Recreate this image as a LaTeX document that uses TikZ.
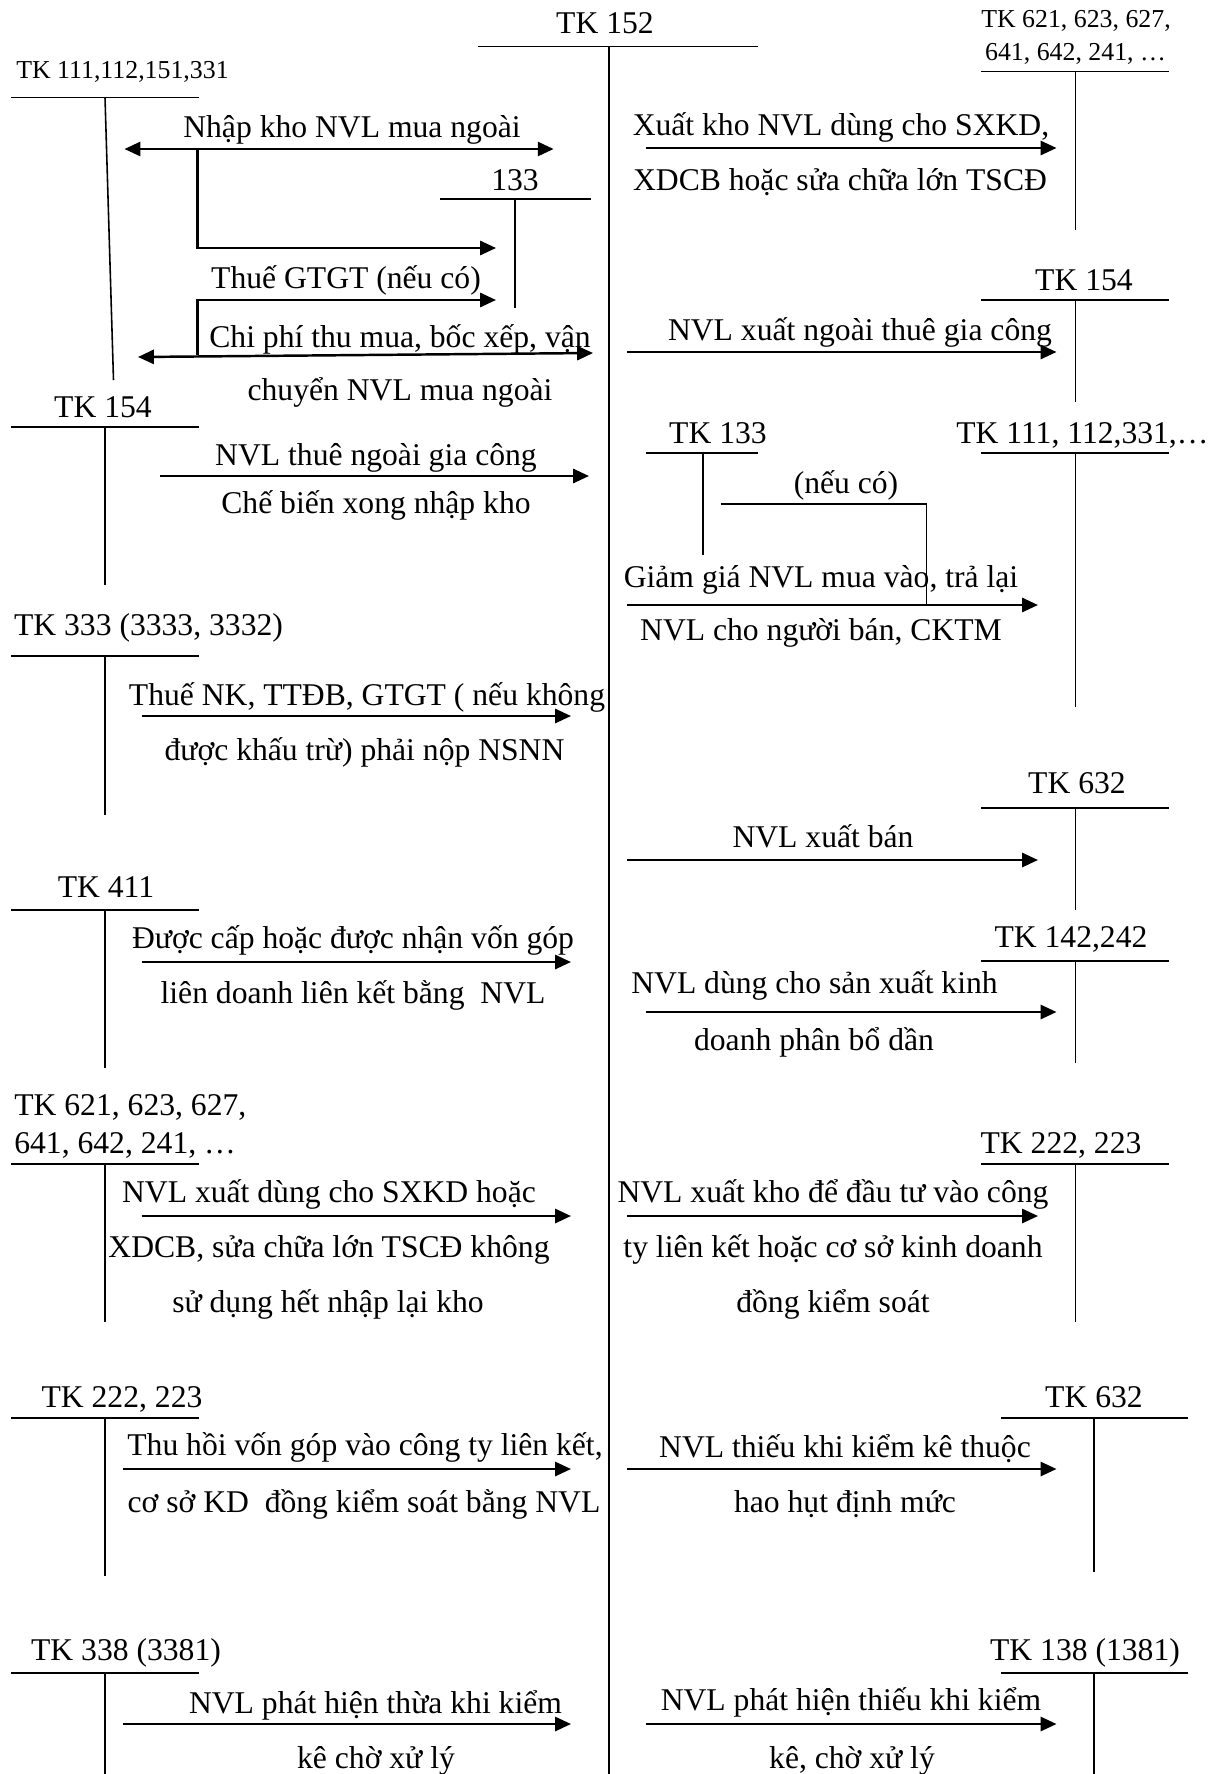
\documentclass[tikz,border=0pt]{standalone}
\usepackage{fontspec}
\setmainfont{Liberation Serif}
\usepackage{tikz}
\usetikzlibrary{arrows.meta}

\tikzset{
  tacct/.style={line width=0.9pt},
  flow/.style={line width=1.4pt,-{Triangle[length=9pt,width=8pt]}},
  flowboth/.style={line width=1.4pt,{Triangle[length=9pt,width=8pt]}-{Triangle[length=9pt,width=8pt]}},
  lbl/.style={anchor=base,inner sep=0pt,font=\fontsize{18}{20}\selectfont},
  lblw/.style={lbl,anchor=base west},
  tksmall/.style={anchor=base,inner sep=0pt,font=\fontsize{14.7}{16}\selectfont},
}

\begin{document}
\begin{tikzpicture}[x=0.2mm,y=-0.2mm,line join=miter]
\useasboundingbox (0,0) rectangle (1220,1774);
% --- centre account TK 152
\draw[tacct] (478,46.7) -- (758,46.7);
\draw[line width=1.2pt] (609,46.7) -- (609,1774);
\node[lbl] (tk152) at (605,33) {TK 152};
% --- left T accounts
\draw[tacct] (11,97.3) -- (198.5,97.3); \draw[tacct] (105,97.3) -- (113.5,380);
\foreach \yt/\yb in {427/585,656/815,910/1068,1164/1322,1418/1576,1673/1774}
  {\draw[tacct] (11,\yt) -- (198.5,\yt); \draw[tacct] (105,\yt) -- (105,\yb);}
% --- right T accounts
\foreach \yt/\yb in {71.7/230,300/402,453/707,808/910,961/1063,1164/1322}
  {\draw[tacct] (981,\yt) -- (1169,\yt); \draw[tacct] (1075.5,\yt) -- (1075.5,\yb);}
\foreach \yt/\yb in {1418/1572,1673/1774}
  {\draw[tacct] (1001,\yt) -- (1188,\yt); \draw[tacct] (1094,\yt) -- (1094,\yb);}
% small accounts 133
\draw[tacct] (440,199) -- (591,199); \draw[tacct] (515,199) -- (515,308);
\draw[tacct] (645.5,453) -- (758,453); \draw[tacct] (703,453) -- (703,555);
% --- account labels
\node[tksmall] (tk111) at (122.5,78) {TK 111,112,151,331};
\node[lbl] (tk133a) at (515,190) {133};
\node[lbl] (tk154l) at (103,417) {TK 154};
\node[lbl] (tk333) at (148.5,635) {TK 333 (3333, 3332)};
\node[lbl] (tk411) at (106,897) {TK 411};
\node[lblw] (tk621la) at (14,1115) {TK 621, 623, 627,};
\node[lblw] (tk621lb) at (14,1153) {641, 642, 241, …};
\node[lbl] (tk222l) at (122,1407) {TK 222, 223};
\node[lbl] (tk338) at (126,1660) {TK 338 (3381)};
\node[tksmall] (tk621ra) at (1076,27) {TK 621, 623, 627,};
\node[tksmall] (tk621rb) at (1075.5,60) {641, 642, 241, …};
\node[lbl] (tk154r) at (1084,290) {TK 154};
\node[lbl] (tk133b) at (718,443) {TK 133};
\node[lblw] (tk111r) at (956,443) {TK 111, 112,331,…};
\node[lbl] (tk632a) at (1077,793) {TK 632};
\node[lbl] (tk142) at (1071,947) {TK 142,242};
\node[lbl] (tk222r) at (1061,1153) {TK 222, 223};
\node[lbl] (tk632b) at (1094,1407) {TK 632};
\node[lbl] (tk138) at (1085,1660) {TK 138 (1381)};
% --- debit side of TK 152 (left)
\draw[flowboth] (124.5,149) -- (553.6,149);
\draw[flow] (197.7,149) -- (197.7,248) -- (496,248);
\draw[flow] (197.7,355) -- (197.7,300) -- (496,300);
\draw[flowboth] (138,357) -- (593,353);
\node[lbl] (t1) at (352,137) {Nhập kho NVL mua ngoài};
\node[lbl] (t2) at (346,288) {Thuế GTGT (nếu có)};
\node[lbl] (t3a) at (400,347) {Chi phí thu mua, bốc xếp, vận};
\node[lbl] (t3b) at (400,400) {chuyển NVL mua ngoài};
\draw[flow] (160,476) -- (589,476);
\node[lbl] (t4a) at (376,465) {NVL thuê ngoài gia công};
\node[lbl] (t4b) at (376,513) {Chế biến xong nhập kho};
\draw[flow] (141.5,716) -- (571,716);
\node[lbl] (t5a) at (367,705) {Thuế NK, TTĐB, GTGT ( nếu không};
\node[lbl] (t5b) at (364.5,760) {được khấu trừ) phải nộp NSNN};
\draw[flow] (141.5,962) -- (571,962);
\node[lbl] (t6a) at (353,948) {Được cấp hoặc được nhận vốn góp};
\node[lbl] (t6b) at (353,1003) {liên doanh liên kết bằng~ NVL};
\draw[flow] (141.5,1216) -- (571,1216);
\node[lbl] (t7a) at (329,1202) {NVL xuất dùng cho SXKD hoặc};
\node[lbl] (t7b) at (329,1257) {XDCB, sửa chữa lớn TSCĐ không};
\node[lbl] (t7c) at (328,1312) {sử dụng hết nhập lại kho};
\draw[flow] (122.5,1469) -- (571,1469);
\node[lbl] (t8a) at (365,1455) {Thu hồi vốn góp vào công ty liên kết,};
\node[lbl] (t8b) at (364,1512) {cơ sở KD~ đồng kiểm soát bằng NVL};
\draw[flow] (122.5,1724) -- (571,1724);
\node[lbl] (t9a) at (375.5,1713) {NVL phát hiện thừa khi kiểm};
\node[lbl] (t9b) at (376,1768) {kê chờ xử lý};
% --- credit side of TK 152 (right)
\draw[flow] (645.5,148) -- (1056.5,148);
\node[lbl] (r1a) at (841,135) {Xuất kho NVL dùng cho SXKD,};
\node[lbl] (r1b) at (840,190) {XDCB hoặc sửa chữa lớn TSCĐ};
\draw[flow] (627,352) -- (1056.5,352);
\node[lbl] (r2) at (860,340) {NVL xuất ngoài thuê gia công};
\draw[tacct] (720.5,504) -- (926.5,504) -- (926.5,605);
\node[lbl] (r3n) at (846,493) {(nếu có)};
\draw[flow] (627,605) -- (1038,605);
\node[lbl] (r3a) at (821,587) {Giảm giá NVL mua vào, trả lại};
\node[lbl] (r3b) at (821,640) {NVL cho người bán, CKTM};
\draw[flow] (627,860) -- (1038,860);
\node[lbl] (r4) at (823,847) {NVL xuất bán};
\draw[flow] (645.5,1012) -- (1056.5,1012);
\node[lbl] (r5a) at (814.5,993) {NVL dùng cho sản xuất kinh};
\node[lbl] (r5b) at (814,1050) {doanh phân bổ dần};
\draw[flow] (627,1216) -- (1038,1216);
\node[lbl] (r6a) at (833,1202) {NVL xuất kho để đầu tư vào công};
\node[lbl] (r6b) at (833,1257) {ty liên kết hoặc cơ sở kinh doanh};
\node[lbl] (r6c) at (833,1312) {đồng kiểm soát};
\draw[flow] (627,1469) -- (1056.5,1469);
\node[lbl] (r7a) at (845,1457) {NVL thiếu khi kiểm kê thuộc};
\node[lbl] (r7b) at (845,1512) {hao hụt định mức};
\draw[flow] (645.5,1724) -- (1056.5,1724);
\node[lbl] (r8a) at (851,1710) {NVL phát hiện thiếu khi kiểm};
\node[lbl] (r8b) at (852,1768) {kê, chờ xử lý};
\end{tikzpicture}
\end{document}
